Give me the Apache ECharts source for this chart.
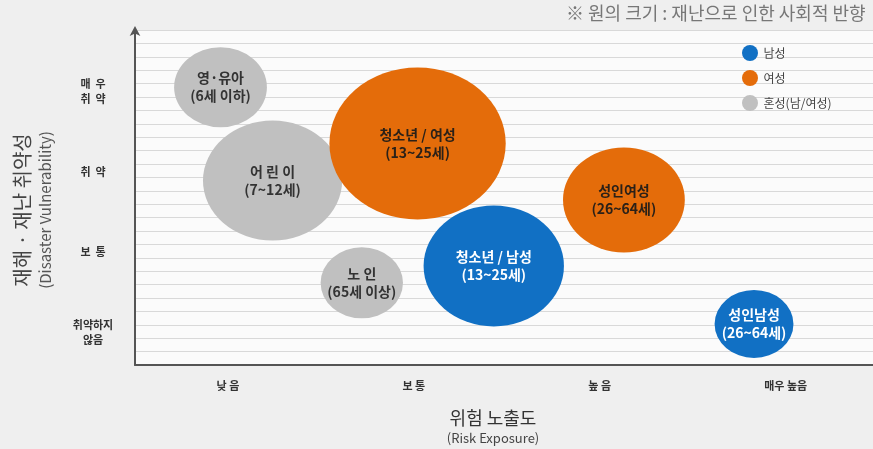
<!DOCTYPE html>
<html>
<head>
<meta charset="utf-8">
<script src="https://cdn.jsdelivr.net/npm/echarts@6/dist/echarts.min.js"></script>
<style>
  html, body { margin: 0; padding: 0; background: #efefef; }
  #chart { width: 873px; height: 449px; }
</style>
</head>
<body>
<div id="chart"></div>
<script>
// 위험 노출도 (x) / 재해·재난 취약성 (y) / 원의 크기 = 사회적 반향
const xTickLabels = ['낮 음', '보 통', '높 음', '매우 높음'];
const yTickLabels = ['취약하지\n않음', '보  통', '취  약', '매  우\n취  약'];

const groupNames = ['혼성(남/여성)', '여성', '남성'];
const groupColors = ['#c0c0c0', '#e46c0a', '#1170c4'];
const groupLabelColors = ['#333333', '#2b2118', '#ffffff'];

// 각 그룹별 원: [노출도, 취약성, 크기]
const mixedNames = ['영·유아\n(6세 이하)', '어 린 이\n(7~12세)', '노 인\n(65세 이상)'];
const mixedValues = [[0.96, 4.05, 80], [1.24, 2.89, 120], [1.72, 1.62, 71]];

const femaleNames = ['청소년 / 여성\n(13~25세)', '성인여성\n(26~64세)'];
const femaleValues = [[2.02, 3.35, 152], [3.13, 2.65, 105]];

const maleNames = ['청소년 / 남성\n(13~25세)', '성인남성\n(26~64세)'];
const maleValues = [[2.43, 1.83, 121], [3.83, 1.11, 68]];

const groupData = [
    [mixedNames, mixedValues],
    [femaleNames, femaleValues],
    [maleNames, maleValues]
];

const FONT = '"Noto Sans CJK KR", "Noto Sans", sans-serif';

const chart = echarts.init(document.getElementById('chart'));

const series = groupData.map(([names, values], i) => ({
    name: groupNames[i],
    type: 'scatter',
    yAxisIndex: 0,
    data: values.map((v, j) => ({ name: names[j], value: v })),
    symbolSize: (val) => [val[2] * 1.16, val[2]],
    itemStyle: { color: groupColors[i], opacity: 1 },
    label: {
        show: true,
        position: 'inside',
        formatter: (p) => p.name,
        color: groupLabelColors[i],
        fontFamily: FONT,
        fontSize: 14,
        fontWeight: 'bold',
        lineHeight: 18
    },
    emphasis: { disabled: true }
}));

const option = {
    backgroundColor: '#efefef',
    animation: false,
    textStyle: { fontFamily: FONT },
    grid: {
        left: 135, right: 0, top: 30, bottom: 84,
        show: true, backgroundColor: '#fbfbfb', borderWidth: 0
    },
    legend: {
        orient: 'vertical',
        left: 737,
        top: 40,
        itemWidth: 17,
        itemHeight: 16,
        itemGap: 9,
        icon: 'circle',
        data: ['남성', '여성', '혼성(남/여성)'],
        textStyle: { fontSize: 12, color: '#444', fontFamily: FONT }
    },
    xAxis: {
        type: 'value',
        min: 0.5,
        max: 4.47,
        axisLine: { show: true, onZero: false, lineStyle: { color: '#555', width: 2 } },
        axisTick: { show: false },
        splitLine: { show: false },
        axisLabel: {
            customValues: [1, 2, 3, 4],
            formatter: (v) => xTickLabels[Math.round(v) - 1] || '',
            margin: 15,
            fontSize: 11,
            fontWeight: 'bold',
            color: '#333'
        }
    },
    yAxis: [{
        type: 'value',
        min: 0.6,
        max: 4.76,
        axisLine: {
            show: true, onZero: false,
            lineStyle: { color: '#555', width: 2 },
            symbol: ['none', 'arrow'],
            symbolSize: [8, 10],
            symbolOffset: [0, 4]
        },
        axisTick: { show: false },
        splitLine: { show: false },
        axisLabel: {
            customValues: [1, 2, 3, 4],
            formatter: (v) => yTickLabels[Math.round(v) - 1] || '',
            margin: 42,
            align: 'center',
            fontSize: 11,
            fontWeight: 'bold',
            lineHeight: 15,
            color: '#333'
        }
    }, {
        type: 'value',
        min: 0,
        max: 25,
        interval: 1,
        axisLine: { show: false },
        axisTick: { show: false },
        axisLabel: { show: false },
        splitLine: { show: true, lineStyle: { color: '#d9d9d9', width: 1 } }
    }],
    graphic: [{
        type: 'text',
        left: 566, top: 4,
        style: { text: '※ 원의 크기 : 재난으로 인한 사회적 반향', fill: '#777', font: '18px ' + FONT }
    }, {
        type: 'text',
        x: 22, y: 210, rotation: Math.PI / 2,
        style: { text: '재해 · 재난 취약성', fill: '#444', font: '20px ' + FONT, align: 'center', verticalAlign: 'middle' }
    }, {
        type: 'text',
        x: 45, y: 210, rotation: Math.PI / 2,
        style: { text: '(Disaster Vulnerability)', fill: '#555', font: '15px ' + FONT, align: 'center', verticalAlign: 'middle' }
    }, {
        type: 'text',
        x: 493, y: 418,
        style: { text: '위험 노출도', fill: '#333', font: '18px ' + FONT, align: 'center', verticalAlign: 'middle' }
    }, {
        type: 'text',
        x: 493, y: 438,
        style: { text: '(Risk Exposure)', fill: '#444', font: '13px ' + FONT, align: 'center', verticalAlign: 'middle' }
    }],
    series: series
};

chart.setOption(option);
</script>
</body>
</html>
